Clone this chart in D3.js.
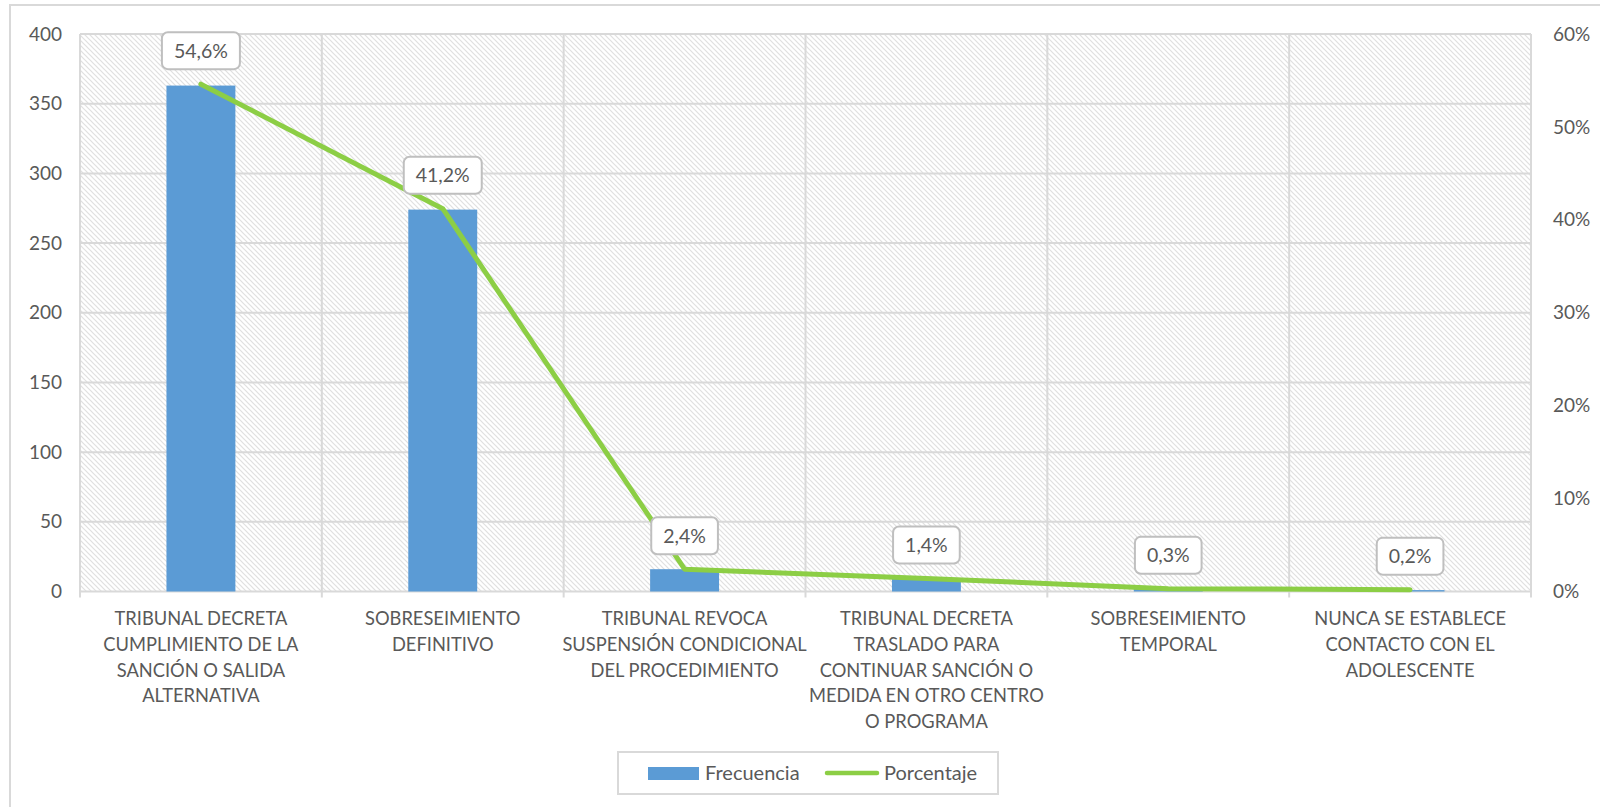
<!DOCTYPE html>
<html>
<head>
<meta charset="utf-8">
<script src="https://cdn.jsdelivr.net/npm/d3@7"></script>
<style>
  html, body { margin: 0; padding: 0; background: #fff; }
  svg { display: block; }
  text { font-family: Lato, "Open Sans", sans-serif; fill: #595959; }
</style>
</head>
<body>
<script>
// ---- data ----
const categories = [
  "TRIBUNAL DECRETA CUMPLIMIENTO DE LA SANCIÓN O SALIDA ALTERNATIVA",
  "SOBRESEIMIENTO DEFINITIVO",
  "TRIBUNAL REVOCA SUSPENSIÓN CONDICIONAL DEL PROCEDIMIENTO",
  "TRIBUNAL DECRETA TRASLADO PARA CONTINUAR SANCIÓN O MEDIDA EN OTRO CENTRO O PROGRAMA",
  "SOBRESEIMIENTO TEMPORAL",
  "NUNCA SE ESTABLECE CONTACTO CON EL ADOLESCENTE"
];
const categoryLines = [
  ["TRIBUNAL DECRETA", "CUMPLIMIENTO DE LA", "SANCIÓN O SALIDA", "ALTERNATIVA"],
  ["SOBRESEIMIENTO", "DEFINITIVO"],
  ["TRIBUNAL REVOCA", "SUSPENSIÓN CONDICIONAL", "DEL PROCEDIMIENTO"],
  ["TRIBUNAL DECRETA", "TRASLADO PARA", "CONTINUAR SANCIÓN O", "MEDIDA EN OTRO CENTRO", "O PROGRAMA"],
  ["SOBRESEIMIENTO", "TEMPORAL"],
  ["NUNCA SE ESTABLECE", "CONTACTO CON EL", "ADOLESCENTE"]
];
const frecuencia = [363, 274, 16, 9, 2, 1];
const porcentaje = [0.546, 0.412, 0.024, 0.014, 0.003, 0.002];
const porcentajeLabels = ["54,6%", "41,2%", "2,4%", "1,4%", "0,3%", "0,2%"];
const leftTicks = [0, 50, 100, 150, 200, 250, 300, 350, 400];
const rightTicks = [0, 0.1, 0.2, 0.3, 0.4, 0.5, 0.6];
const seriesNames = ["Frecuencia", "Porcentaje"];

// ---- layout ----
const W = 1600, H = 807;
const plot = { left: 80, right: 1531, top: 34, bottom: 591.5 };
const barColor = "#5b9bd5", lineColor = "#8cce45", gridColor = "#d9d9d9";

const svg = d3.select("body").append("svg").attr("width", W).attr("height", H);

// outer chart border
svg.append("rect").attr("x", 10).attr("y", 5).attr("width", W).attr("height", H)
  .attr("fill", "#fff").attr("stroke", "#d9d9d9").attr("stroke-width", 2);

// hatch pattern
const defs = svg.append("defs");
const pat = defs.append("pattern").attr("id", "hatch").attr("patternUnits", "userSpaceOnUse")
  .attr("width", 5).attr("height", 5);
pat.append("rect").attr("width", 5).attr("height", 5).attr("fill", "#fff");
pat.append("path").attr("d", "M-1,-1 L6,6 M-1,4 L1,6 M4,-1 L6,1")
  .attr("stroke", "#e0e0e0").attr("stroke-width", 1.2);

const x = d3.scaleBand().domain(d3.range(categories.length)).range([plot.left, plot.right]).padding(0);
const yL = d3.scaleLinear().domain([0, 400]).range([plot.bottom, plot.top]);
const yR = d3.scaleLinear().domain([0, 0.6]).range([plot.bottom, plot.top]);

svg.append("rect").attr("x", plot.left).attr("y", plot.top)
  .attr("width", plot.right - plot.left).attr("height", plot.bottom - plot.top)
  .attr("fill", "url(#hatch)");

// horizontal grid
svg.append("g").selectAll("line").data(leftTicks).join("line")
  .attr("x1", plot.left).attr("x2", plot.right)
  .attr("y1", d => yL(d)).attr("y2", d => yL(d))
  .attr("stroke", gridColor).attr("stroke-width", 2);
// vertical grid (category boundaries)
const bounds = d3.range(categories.length + 1).map(i => i < categories.length ? x(i) : plot.right);
svg.append("g").selectAll("line").data(bounds).join("line")
  .attr("x1", d => d).attr("x2", d => d)
  .attr("y1", plot.top).attr("y2", plot.bottom + 6)
  .attr("stroke", gridColor).attr("stroke-width", 2);

// left axis labels
svg.append("g").selectAll("text").data(leftTicks).join("text")
  .attr("x", 62).attr("y", d => yL(d)).attr("dy", "0.35em")
  .attr("text-anchor", "end").attr("font-size", 19).text(d => d);
// right axis labels
svg.append("g").selectAll("text").data(rightTicks).join("text")
  .attr("x", 1553).attr("y", d => yR(d)).attr("dy", "0.35em")
  .attr("text-anchor", "start").attr("font-size", 19).text(d => Math.round(d * 100) + "%");

// bars
const barW = x.bandwidth() * 0.285;
svg.append("g").selectAll("rect").data(frecuencia).join("rect")
  .attr("x", (d, i) => x(i) + x.bandwidth() / 2 - barW / 2)
  .attr("y", d => yL(d)).attr("width", barW)
  .attr("height", d => yL(0) - yL(d)).attr("fill", barColor);

// line
const line = d3.line().x((d, i) => x(i) + x.bandwidth() / 2).y(d => yR(d));
svg.append("path").datum(porcentaje).attr("d", line)
  .attr("fill", "none").attr("stroke", lineColor).attr("stroke-width", 5)
  .attr("stroke-linejoin", "round").attr("stroke-linecap", "round");

// data labels
const lab = svg.append("g").selectAll("g").data(porcentaje).join("g")
  .attr("transform", (d, i) => `translate(${x(i) + x.bandwidth() / 2},${yR(d) - 15})`);
lab.each(function (d, i) {
  const g = d3.select(this);
  const t = g.append("text").attr("x", 0).attr("y", -18.5).attr("dy", "0.35em")
    .attr("text-anchor", "middle").attr("font-size", 19.5).text(porcentajeLabels[i]);
  const w = t.node().getComputedTextLength() + 24;
  g.insert("rect", "text").attr("x", -w / 2).attr("y", -37).attr("width", w).attr("height", 37)
    .attr("rx", 6).attr("fill", "#fff").attr("stroke", "#bfbfbf").attr("stroke-width", 2);
});

// category labels
const cl = svg.append("g").selectAll("text").data(categoryLines).join("text")
  .attr("text-anchor", "middle").attr("font-size", 18.3)
  .attr("transform", (d, i) => `translate(${x(i) + x.bandwidth() / 2},625)`);
cl.selectAll("tspan").data(d => d).join("tspan")
  .attr("x", 0).attr("y", (d, j) => j * 25.8).text(d => d);

// legend
const lg = svg.append("g");
lg.append("rect").attr("x", 618).attr("y", 752).attr("width", 380).attr("height", 42)
  .attr("fill", "#fff").attr("stroke", "#d9d9d9").attr("stroke-width", 2);
lg.append("rect").attr("x", 648).attr("y", 767).attr("width", 51).attr("height", 13).attr("fill", barColor);
lg.append("text").attr("x", 705).attr("y", 773).attr("dy", "0.35em").attr("font-size", 20).text(seriesNames[0]);
lg.append("line").attr("x1", 827).attr("x2", 877).attr("y1", 773).attr("y2", 773)
  .attr("stroke", lineColor).attr("stroke-width", 4.5).attr("stroke-linecap", "round");
lg.append("text").attr("x", 884).attr("y", 773).attr("dy", "0.35em").attr("font-size", 20).text(seriesNames[1]);
</script>
</body>
</html>
